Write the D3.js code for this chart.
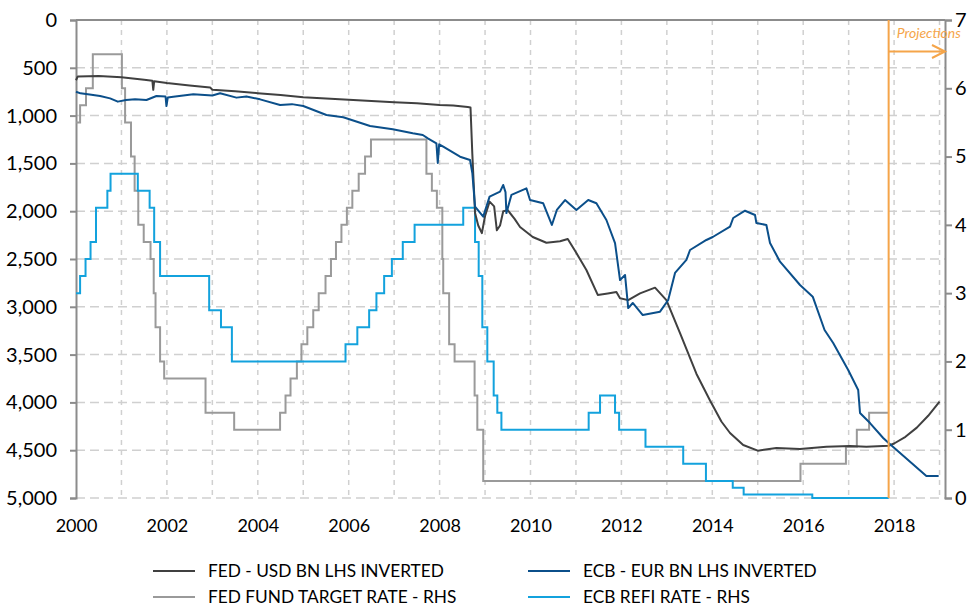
<!DOCTYPE html>
<html>
<head>
<meta charset="utf-8">
<title>Fed / ECB balance sheets and policy rates</title>
<script src="https://cdn.jsdelivr.net/npm/d3@7"></script>
<style>
	body, html {
		margin: 0;
		padding: 0;
		background: #fff;
	}
	svg text {
		font-family: Lato, "Open Sans", sans-serif;
		fill: #000;
	}
	.axis text {
		font-size: 20px;
	}
	.xaxis text {
		font-size: 18px;
	}
	.legend text {
		font-size: 17.3px;
	}
</style>
</head>
<body>
<svg id="Chart" width="973" height="608"></svg>

<script>

	// Fed balance sheet, USD bn (plotted on the left, inverted)
	var fedBnDates = [2000.00, 2000.04, 2000.50, 2001.00, 2001.50, 2001.68, 2001.70, 2001.72, 2002.00, 2002.50, 2002.95, 2003.00,
		2003.50, 2004.00, 2004.50, 2005.00, 2005.50, 2006.00, 2006.50, 2007.00, 2007.50, 2008.00, 2008.30, 2008.62,
		2008.68, 2008.72, 2008.78, 2008.85, 2008.93, 2009.00, 2009.10, 2009.20, 2009.26, 2009.33, 2009.40, 2009.50,
		2009.65, 2009.77, 2010.05, 2010.35, 2010.65, 2010.82, 2011.00, 2011.23, 2011.48, 2011.70, 2011.89, 2011.97,
		2012.15, 2012.41, 2012.74, 2012.99, 2013.29, 2013.65, 2013.95, 2014.20, 2014.39, 2014.68, 2015.00, 2015.41,
		2015.93, 2016.51, 2017.03, 2017.39, 2017.88, 2018.00, 2018.25, 2018.50, 2018.75, 2019.00];
	var fedBnValues = [630, 590, 585, 600, 625, 635, 730, 640, 660, 685, 705, 730,
		745, 765, 785, 808, 820, 835, 848, 860, 872, 890, 895, 910,
		915, 1400, 2020, 2150, 2230, 2050, 1900, 1950, 2200, 2150, 2000, 1990,
		2080, 2165, 2270, 2330, 2315, 2290, 2430, 2615, 2876, 2860, 2845, 2910,
		2930, 2860, 2800, 2930, 3276, 3700, 3980, 4200, 4320, 4446, 4505, 4477,
		4488, 4465, 4455, 4465, 4453, 4430, 4360, 4264, 4140, 3992];

	// ECB balance sheet, EUR bn (left, inverted)
	var ecbBnDates = [2000.00, 2000.10, 2000.30, 2000.53, 2000.75, 2000.92, 2001.10, 2001.30, 2001.55, 2001.77, 2001.97, 2001.99,
		2002.02, 2002.14, 2002.58, 2003.00, 2003.17, 2003.53, 2003.75, 2004.05, 2004.49, 2004.75, 2005.00, 2005.51,
		2005.88, 2006.47, 2006.97, 2007.41, 2007.63, 2007.75, 2007.93, 2007.96, 2007.99, 2008.08, 2008.45, 2008.67,
		2008.72, 2008.78, 2008.96, 2009.10, 2009.33, 2009.40, 2009.45, 2009.47, 2009.58, 2009.91, 2009.99, 2010.28,
		2010.47, 2010.58, 2010.76, 2011.01, 2011.27, 2011.45, 2011.67, 2011.86, 2011.97, 2012.08, 2012.15, 2012.25,
		2012.47, 2012.85, 2013.03, 2013.18, 2013.43, 2013.51, 2013.87, 2014.01, 2014.39, 2014.46, 2014.72, 2014.94,
		2014.97, 2015.19, 2015.27, 2015.49, 2015.93, 2016.21, 2016.47, 2016.66, 2016.99, 2017.21, 2017.25, 2017.47,
		2017.76, 2017.88, 2018.71, 2018.98];
	var ecbBnValues = [750, 767, 780, 795, 820, 854, 837, 830, 837, 795, 800, 900,
		810, 802, 777, 790, 767, 812, 800, 830, 889, 880, 900, 994,
		1018, 1109, 1143, 1185, 1203, 1240, 1290, 1496, 1300, 1325, 1430, 1464,
		1600, 1953, 2057, 1848, 1795, 1726, 1800, 2020, 1830, 1761, 1883, 1917,
		2144, 1987, 1883, 1987, 1883, 1917, 2092, 2333, 2720, 2667, 3013, 2960,
		3086, 3051, 2929, 2646, 2510, 2406, 2301, 2270, 2162, 2071, 1995, 2040,
		2124, 2144, 2333, 2528, 2772, 2894, 3243, 3379, 3661, 3870, 4111, 4216,
		4372, 4425, 4770, 4770];

	// Fed funds target rate, % (right axis)
	var fedRateDates = [2000.00, 2000.09, 2000.22, 2000.37, 2001.01, 2001.08, 2001.21, 2001.29, 2001.37, 2001.49, 2001.64, 2001.71,
		2001.75, 2001.85, 2001.94, 2002.85, 2003.48, 2004.49, 2004.61, 2004.72, 2004.86, 2004.96, 2005.09, 2005.22,
		2005.34, 2005.49, 2005.61, 2005.72, 2005.84, 2005.96, 2006.08, 2006.22, 2006.36, 2006.49, 2007.71, 2007.83,
		2007.94, 2008.06, 2008.08, 2008.21, 2008.33, 2008.77, 2008.83, 2008.96, 2015.94, 2016.94, 2017.18, 2017.45, 2017.88];
	var fedRateValues = [5.5, 5.75, 6.0, 6.5, 6.0, 5.5, 5.0, 4.5, 4.0, 3.75, 3.5, 3.0,
		2.5, 2.0, 1.75, 1.25, 1.0, 1.25, 1.5, 1.75, 2.0, 2.25, 2.5, 2.75,
		3.0, 3.25, 3.5, 3.75, 4.0, 4.25, 4.5, 4.75, 5.0, 5.25, 4.75, 4.5,
		4.25, 3.5, 3.0, 2.25, 2.0, 1.5, 1.0, 0.25, 0.5, 0.75, 1.0, 1.25, 1.25];

	// ECB main refinancing rate, % (right axis)
	var ecbRateDates = [2000.00, 2000.09, 2000.21, 2000.32, 2000.44, 2000.69, 2000.76, 2001.36, 2001.62, 2001.72, 2001.85, 2002.93,
		2003.19, 2003.43, 2005.93, 2006.19, 2006.45, 2006.61, 2006.78, 2006.95, 2007.19, 2007.45, 2008.52, 2008.78,
		2008.86, 2008.94, 2009.05, 2009.19, 2009.27, 2009.36, 2011.28, 2011.53, 2011.86, 2011.95, 2012.53, 2013.36,
		2013.86, 2014.45, 2014.69, 2016.20, 2017.88];
	var ecbRateValues = [3.0, 3.25, 3.5, 3.75, 4.25, 4.5, 4.75, 4.5, 4.25, 3.75, 3.25, 2.75,
		2.5, 2.0, 2.25, 2.5, 2.75, 3.0, 3.25, 3.5, 3.75, 4.0, 4.25, 3.75,
		3.25, 2.5, 2.0, 1.5, 1.25, 1.0, 1.25, 1.5, 1.25, 1.0, 0.75, 0.5,
		0.25, 0.15, 0.05, 0.0, 0.0];

	var xTickYears = [2000, 2002, 2004, 2006, 2008, 2010, 2012, 2014, 2016, 2018];
	var leftTicks = [0, 500, 1000, 1500, 2000, 2500, 3000, 3500, 4000, 4500, 5000];
	var rightTicks = [0, 1, 2, 3, 4, 5, 6, 7];
	var projectionStart = 2017.88;

	var legendItems = [
		{ name: "FED - USD BN LHS INVERTED", color: "#404040" },
		{ name: "ECB - EUR BN LHS INVERTED", color: "#0b4f8a" },
		{ name: "FED FUND TARGET RATE - RHS", color: "#9a9a9a" },
		{ name: "ECB REFI RATE - RHS", color: "#13a2dd" }
	];

	function zip(dates, values) {
		return dates.map(function(d, i) { return { t: d, v: values[i] }; });
	}

	var margin = { top: 20, right: 28, bottom: 110, left: 76 },
		width = 973 - margin.left - margin.right,
		height = 608 - margin.top - margin.bottom;

	var svg = d3.select("#Chart");
	var g = svg.append("g")
		.attr("transform", "translate(" + margin.left + "," + margin.top + ")");

	var x = d3.scaleLinear().domain([2000, 2019.12]).range([0, width]);
	// left axis is inverted: 0 on top
	var yL = d3.scaleLinear().domain([0, 5000]).range([0, height]);
	var yR = d3.scaleLinear().domain([0, 7]).range([height, 0]);

	// gridlines
	g.append("g").selectAll("line")
		.data(leftTicks.slice(1))
	  .enter().append("line")
		.attr("x1", 0).attr("x2", width)
		.attr("y1", function(d) { return yL(d); })
		.attr("y2", function(d) { return yL(d); })
		.attr("stroke", "#d0d0d0")
		.attr("stroke-width", 1.5)
		.attr("stroke-dasharray", "9,5");

	g.append("g").selectAll("line")
		.data(d3.range(2001, 2020))
	  .enter().append("line")
		.attr("x1", function(d) { return x(d); })
		.attr("x2", function(d) { return x(d); })
		.attr("y1", 0).attr("y2", height)
		.attr("stroke", "#d0d0d0")
		.attr("stroke-width", 1.5)
		.attr("stroke-dasharray", "5,5");

	// axes
	var left = g.append("g")
		.attr("class", "axis")
		.call(d3.axisLeft(yL).tickValues(leftTicks).tickFormat(d3.format(",")).tickSize(6).tickPadding(13));

	var right = g.append("g")
		.attr("class", "axis")
		.attr("transform", "translate(" + width + ",0)")
		.call(d3.axisRight(yR).tickValues(rightTicks).tickFormat(d3.format("d")).tickSize(7).tickPadding(3));

	var bottom = g.append("g")
		.attr("class", "xaxis")
		.attr("transform", "translate(0," + height + ")")
		.call(d3.axisBottom(x).tickValues(xTickYears).tickFormat(d3.format("d")).tickSize(0).tickPadding(21));
	bottom.select(".domain").remove();

	[left, right].forEach(function(a) {
		a.selectAll("path, line").attr("stroke", "#8c8c8c").attr("stroke-width", 2);
	});

	// category axis sits on top because the left scale is inverted
	g.append("line")
		.attr("x1", 0).attr("x2", width)
		.attr("y1", 0).attr("y2", 0)
		.attr("stroke", "#8c8c8c")
		.attr("stroke-width", 2);

	// series
	var stepR = d3.line()
		.x(function(d) { return x(d.t); })
		.y(function(d) { return yR(d.v); })
		.curve(d3.curveStepAfter);

	var lineL = d3.line()
		.x(function(d) { return x(d.t); })
		.y(function(d) { return yL(d.v); });

	g.append("path")
		.datum(zip(fedRateDates, fedRateValues))
		.attr("d", stepR)
		.attr("fill", "none")
		.attr("stroke", legendItems[2].color)
		.attr("stroke-width", 2);

	g.append("path")
		.datum(zip(ecbRateDates, ecbRateValues))
		.attr("d", stepR)
		.attr("fill", "none")
		.attr("stroke", legendItems[3].color)
		.attr("stroke-width", 2);

	g.append("path")
		.datum(zip(fedBnDates, fedBnValues))
		.attr("d", lineL)
		.attr("fill", "none")
		.attr("stroke", legendItems[0].color)
		.attr("stroke-width", 2)
		.attr("stroke-linejoin", "round");

	g.append("path")
		.datum(zip(ecbBnDates, ecbBnValues))
		.attr("d", lineL)
		.attr("fill", "none")
		.attr("stroke", legendItems[1].color)
		.attr("stroke-width", 2)
		.attr("stroke-linejoin", "round");

	// projections marker
	var px = x(projectionStart);
	g.append("line")
		.attr("x1", px).attr("x2", px)
		.attr("y1", 0).attr("y2", height)
		.attr("stroke", "#f5a54a")
		.attr("stroke-width", 2);

	g.append("line")
		.attr("x1", px).attr("x2", width)
		.attr("y1", 31.5).attr("y2", 31.5)
		.attr("stroke", "#f5a54a")
		.attr("stroke-width", 2);

	g.append("polyline")
		.attr("points", (width - 13) + ",25 " + width + ",31.5 " + (width - 13) + ",38")
		.attr("fill", "none")
		.attr("stroke", "#f5a54a")
		.attr("stroke-width", 2);

	g.append("text")
		.attr("x", px + 8)
		.attr("y", 18)
		.style("font-size", "14px")
		.style("font-style", "italic")
		.style("fill", "#f5a54a")
		.text("Projections");

	// legend, two columns
	var legend = svg.append("g")
		.attr("class", "legend")
		.selectAll("g")
		.data(legendItems)
	  .enter().append("g")
		.attr("transform", function(d, i) {
			return "translate(" + (i % 2 === 0 ? 153 : 528) + "," + (i < 2 ? 571 : 597) + ")";
		});

	legend.append("line")
		.attr("x1", 0).attr("x2", 42)
		.attr("stroke", function(d) { return d.color; })
		.attr("stroke-width", 2);

	legend.append("text")
		.attr("x", 55)
		.attr("dy", "0.36em")
		.text(function(d) { return d.name; });

</script>
</body>
</html>
